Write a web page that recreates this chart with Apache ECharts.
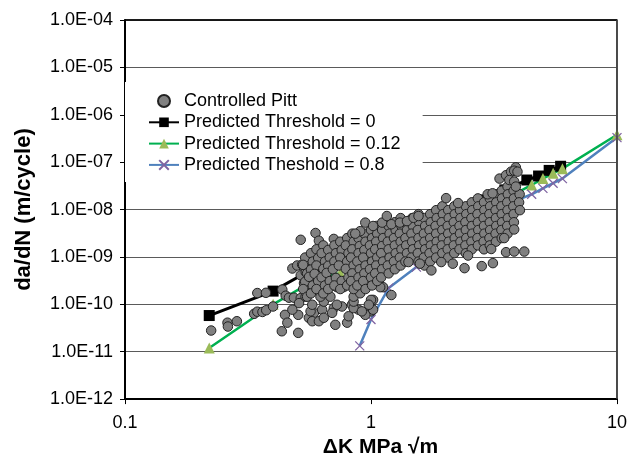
<!DOCTYPE html>
<html><head><meta charset="utf-8">
<script src="https://cdn.jsdelivr.net/npm/echarts@6/dist/echarts.min.js"></script>
<style>html,body{margin:0;padding:0;background:#fff}#c{width:630px;height:463px;background:#fff}</style>
</head><body><div id="c"></div>
<script>
const seriesNames = ['Controlled Pitt', 'Predicted Threshold = 0', 'Predicted Threshold = 0.12', 'Predicted Theshold = 0.8'];
const yTickLabels = ['1.0E-12','1.0E-11','1.0E-10','1.0E-09','1.0E-08','1.0E-07','1.0E-06','1.0E-05','1.0E-04'];
const xTickLabels = ['0.1','1','10'];
const xRange = [0.1, 10];
const yRange = [1e-12, 1e-4];

// Predicted curves (ΔK, da/dN)
const th0DK   = [0.22, 0.4, 0.6, 0.8, 1.0, 1.3, 1.7, 2.2, 2.8, 3.5, 4.3, 4.8, 5.3, 5.9];
const th0Rate = [5.8e-11, 1.9e-10, 6.2e-10, 1.2e-9, 1.9e-9, 3.2e-9, 5.5e-9, 9.5e-9, 1.6e-8, 2.6e-8, 4.2e-8, 5.1e-8, 6.7e-8, 8.2e-8];
const th012DK   = [0.22, 0.4, 0.6, 0.75, 1.0, 1.3, 1.7, 2.2, 2.8, 3.4, 4.0, 4.5, 5.0, 5.5, 6.0, 10];
const th012Rate = [1.2e-11, 1.0e-10, 3.4e-10, 4.6e-10, 9.2e-10, 1.7e-9, 3.2e-9, 5.8e-9, 1.0e-8, 1.6e-8, 2.4e-8, 3.3e-8, 4.5e-8, 5.8e-8, 7.3e-8, 3.8e-7];
const th08DK   = [0.9, 1.0, 1.18, 1.53, 2.0, 2.5, 3.0, 3.5, 4.0, 4.5, 5.0, 5.5, 6.0, 10];
const th08Rate = [1.33e-11, 4.8e-11, 2.2e-10, 6.1e-10, 2.0e-9, 4.2e-9, 7.2e-9, 1.1e-8, 1.64e-8, 2.1e-8, 2.8e-8, 3.6e-8, 4.5e-8, 3.3e-7];

// Controlled Pitt measurements (ΔK, da/dN)
const pittPoints = [
 [0.224,2.8e-11],[0.261,4.1e-11],[0.262,3.4e-11],[0.285,4.4e-11],[0.335,6.3e-11],[0.345,7.0e-11],[0.362,6.9e-11],[0.375,7.5e-11],[0.40,9.0e-11],
 [0.345,1.73e-10],[0.374,1.75e-10],[0.436,2.05e-10],[0.45,1.52e-10],[0.464,1.38e-10],[0.486,1.38e-10],[0.518,1.35e-10],[0.542,1.45e-10],
 [0.447,6.0e-11],[0.457,4.1e-11],[0.434,2.7e-11],[0.506,2.5e-11],[0.506,6.0e-11],[0.479,7.7e-11],[0.51,1.06e-10],[0.559,5.2e-11],[0.586,6.6e-11],[0.577,4.4e-11],
 [0.479,5.7e-10],[0.501,6.6e-10],[0.525,6.9e-10],[0.542,5.7e-10],[0.518,4.1e-10],[0.543,4.8e-10],[0.577,6.1e-10],[0.595,9.9e-10],
 [0.518,2.3e-9],[0.595,3.2e-9],[0.534,2.8e-10],[0.559,3.2e-10],[0.614,2.2e-9],[0.706,2.4e-9],[0.577,1.9e-10],
 [0.568,7.1e-11],[0.633,7.7e-11],[0.706,8.3e-11],[0.762,9.0e-11],[0.836,9.8e-11],[0.89,7.7e-11],[1.0,7.1e-11],[0.948,6.0e-11],[0.80,4.1e-11],[0.716,3.7e-11],
 [0.614,4.4e-11],[0.643,5.2e-11],[0.811,5.6e-11],[0.695,6.6e-11],[0.85,8.3e-11],[0.918,7.1e-11],[1.02,7.7e-11],[0.577,9.8e-11],[0.643,1.14e-10],[0.727,9.8e-11],
 [0.85,1.14e-10],[1.02,1.24e-10],[0.684,1.45e-10],[0.623,1.45e-10],[0.727,2.3e-10],[0.774,2.3e-10],[0.85,1.45e-10],[0.904,1.71e-10],[1.0,1.24e-10],[1.12,2.3e-10],
 [1.21,1.57e-10],[1.09,2.3e-10],[0.98,9.8e-11],
 [0.54,9.7e-10],[0.53,6.8e-10],[0.55,4.5e-10],[0.54,3.0e-10],[0.53,2.1e-10],[0.55,1.45e-10],
 [0.57,1.2e-9],[0.58,8.0e-10],[0.57,5.4e-10],[0.56,3.8e-10],[0.58,2.5e-10],[0.57,1.7e-10],
 [0.60,1.45e-9],[0.61,9.5e-10],[0.60,6.6e-10],[0.59,4.4e-10],[0.61,3.1e-10],[0.60,2.1e-10],
 [0.64,1.75e-9],[0.63,1.2e-9],[0.65,8.0e-10],[0.64,5.6e-10],[0.63,3.7e-10],[0.65,2.5e-10],[0.64,1.7e-10],
 [0.67,1.4e-9],[0.68,9.7e-10],[0.67,6.5e-10],[0.66,4.6e-10],[0.68,3.1e-10],[0.67,2.1e-10],
 [0.71,1.75e-9],[0.72,1.2e-9],[0.71,8.0e-10],[0.70,5.5e-10],[0.72,3.6e-10],[0.71,2.5e-10],
 [0.75,2.1e-9],[0.76,1.4e-9],[0.75,9.7e-10],[0.74,6.6e-10],[0.76,3.1e-10],[0.75,2.1e-10],
 [0.80,2.5e-9],[0.79,1.75e-9],[0.81,1.2e-9],[0.80,8.0e-10],[0.79,5.6e-10],[0.81,3.7e-10],[0.80,2.5e-10],
 [0.84,3.1e-9],[0.85,2.1e-9],[0.84,1.45e-9],[0.83,9.7e-10],[0.85,6.6e-10],[0.84,4.5e-10],[0.83,3.1e-10],[0.85,2.1e-10],
 [0.89,2.5e-9],[0.90,1.7e-9],[0.89,1.2e-9],[0.88,8.0e-10],[0.90,5.5e-10],[0.89,3.7e-10],[0.88,2.5e-10],
 [0.94,3.1e-9],[0.95,2.1e-9],[0.94,1.4e-9],[0.93,9.7e-10],[0.95,6.6e-10],[0.94,4.5e-10],[0.93,3.1e-10],[0.95,2.1e-10],
 [1.0,3.7e-9],[1.01,2.5e-9],[0.99,1.75e-9],[1.0,1.2e-9],[1.01,8.0e-10],[0.99,5.5e-10],[1.0,3.7e-10],[1.01,2.5e-10],
 [1.05,4.5e-9],[1.06,3.1e-9],[1.05,2.1e-9],[1.04,1.45e-9],[1.06,9.7e-10],[1.05,6.6e-10],[1.04,4.5e-10],[1.06,3.1e-10],
 [1.11,3.7e-9],[1.12,2.5e-9],[1.11,1.7e-9],[1.10,1.2e-9],[1.12,8.0e-10],[1.11,5.5e-10],[1.10,3.7e-10],
 [1.18,4.5e-9],[1.19,3.1e-9],[1.17,2.1e-9],[1.18,1.45e-9],[1.19,9.7e-10],[1.17,6.6e-10],[1.18,4.5e-10],
 [1.25,5.4e-9],[1.26,3.7e-9],[1.24,2.5e-9],[1.25,1.75e-9],[1.26,1.2e-9],[1.24,8.0e-10],[1.25,5.5e-10],
 [1.32,6.6e-9],[1.33,4.5e-9],[1.31,3.1e-9],[1.32,2.1e-9],[1.33,1.45e-9],[1.31,9.7e-10],[1.32,6.6e-10],
 [1.39,5.4e-9],[1.40,3.7e-9],[1.38,2.5e-9],[1.39,1.75e-9],[1.40,1.2e-9],[1.38,8.0e-10],
 [1.47,6.6e-9],[1.48,4.5e-9],[1.46,3.1e-9],[1.47,2.1e-9],[1.48,1.45e-9],[1.46,9.7e-10],
 [1.56,8.0e-9],[1.57,5.4e-9],[1.55,3.7e-9],[1.56,2.5e-9],[1.57,1.75e-9],[1.55,1.2e-9],[1.56,8.0e-10],
 [1.65,6.6e-9],[1.66,4.5e-9],[1.64,3.1e-9],[1.65,2.1e-9],[1.66,1.45e-9],[1.64,9.7e-10],[1.65,6.6e-10],
 [1.74,8.0e-9],[1.75,5.4e-9],[1.73,3.7e-9],[1.74,2.5e-9],[1.75,1.75e-9],[1.73,1.2e-9],[1.74,8.0e-10],
 [1.84,9.7e-9],[1.85,6.6e-9],[1.83,4.5e-9],[1.84,3.1e-9],[1.85,2.1e-9],[1.83,1.45e-9],[1.84,9.7e-10],
 [1.95,1.17e-8],[1.96,8.0e-9],[1.94,5.4e-9],[1.95,3.7e-9],[1.96,2.5e-9],[1.94,1.75e-9],[1.95,1.2e-9],
 [2.06,9.7e-9],[2.07,6.6e-9],[2.05,4.5e-9],[2.06,3.1e-9],[2.07,2.1e-9],[2.05,1.45e-9],[2.06,9.7e-10],
 [2.18,1.17e-8],[2.19,8.0e-9],[2.17,5.4e-9],[2.18,3.7e-9],[2.19,2.5e-9],[2.17,1.75e-9],[2.18,1.2e-9],
 [2.30,9.7e-9],[2.31,6.6e-9],[2.29,4.5e-9],[2.30,3.1e-9],[2.31,2.1e-9],[2.29,1.45e-9],
 [2.43,1.17e-8],[2.44,8.0e-9],[2.42,5.4e-9],[2.43,3.7e-9],[2.44,2.5e-9],[2.42,1.75e-9],[2.43,1.2e-9],
 [2.57,1.42e-8],[2.58,9.7e-9],[2.56,6.6e-9],[2.57,4.5e-9],[2.58,3.1e-9],[2.56,2.1e-9],[2.57,1.45e-9],
 [2.72,1.72e-8],[2.73,1.17e-8],[2.71,8.0e-9],[2.72,5.4e-9],[2.73,3.7e-9],[2.71,2.5e-9],[2.72,1.75e-9],
 [2.88,1.42e-8],[2.89,9.7e-9],[2.87,6.6e-9],[2.88,4.5e-9],[2.89,3.1e-9],[2.87,2.1e-9],[2.88,1.45e-9],
 [3.04,1.72e-8],[3.05,1.17e-8],[3.03,8.0e-9],[3.04,5.4e-9],[3.05,3.7e-9],[3.03,2.5e-9],[3.04,1.75e-9],
 [3.22,2.1e-8],[3.23,1.42e-8],[3.21,9.7e-9],[3.22,6.6e-9],[3.23,4.5e-9],[3.21,3.1e-9],[3.22,2.1e-9],
 [3.40,2.5e-8],[3.41,1.72e-8],[3.39,1.17e-8],[3.40,8.0e-9],[3.41,5.4e-9],[3.39,3.7e-9],[3.40,2.5e-9],
 [3.59,3.05e-8],[3.60,2.1e-8],[3.58,1.42e-8],[3.59,9.7e-9],[3.60,6.6e-9],[3.58,4.5e-9],[3.59,3.1e-9],
 [3.80,2.5e-8],[3.81,1.72e-8],[3.79,1.17e-8],[3.80,8.0e-9],[3.81,5.4e-9],
 [4.02,2.1e-8],[4.0,1.42e-8],[4.03,9.7e-9],
 [2.98,2.1e-8],[3.12,2.2e-8],
 [0.948,5.3e-9],[1.02,4.5e-9],[0.904,3.5e-9],[0.863,3.1e-9],[1.11,5.3e-9],[1.16,7.3e-9],[1.21,4.9e-9],[1.31,5.3e-9],[1.40,5.7e-9],[1.49,6.7e-9],[1.56,7.3e-9],
 [2.02,1.74e-8],[2.26,1.37e-8],[3.33,4.5e-8],[3.54,5.3e-8],[3.71,6.3e-8],[3.88,7.8e-8],[3.82,6.6e-8],[3.65,4.2e-8],[3.82,3.9e-8],[3.88,3.05e-8],[3.94,6.3e-8],
 [1.42,7.8e-10],[1.58,7.2e-10],[1.76,5.2e-10],[2.15,7.2e-10],[2.40,5.8e-10],[2.82,6.4e-10],[3.13,7.4e-10],[3.54,1.26e-9],[3.82,1.3e-9],[4.2,1.3e-9],
 [1.93,7.8e-10],[2.48,1.07e-9],[3.08,1.47e-9],[3.48,2.5e-9],[3.82,3.8e-9]
];

const pair = (ks, rs) => ks.map((k, i) => [k, rs[i]]);
const FONT = "'Liberation Sans', Arial, sans-serif";

const chart = echarts.init(document.getElementById('c'), null, {renderer: 'canvas'});
chart.setOption({
  animation: false,
  textStyle: {fontFamily: FONT, color: '#000'},
  grid: {left: 125, right: 10, top: 20, bottom: 57, show: true, borderColor: '#404040', borderWidth: 1.5},
  legend: {
    orient: 'vertical', left: 125, top: 82, padding: [10, 22, 8, 23],
    backgroundColor: '#ffffff', itemWidth: 30, itemHeight: 12, itemGap: 3.3,
    textStyle: {fontSize: 18, fontFamily: FONT, color: '#000', lineHeight: 18},
    data: seriesNames
  },
  xAxis: {
    type: 'log', logBase: 10, min: xRange[0], max: xRange[1], interval: 1,
    name: 'ΔK MPa √m', nameLocation: 'middle', nameGap: 35,
    nameTextStyle: {fontSize: 21, fontWeight: 'bold', fontFamily: FONT, color: '#000', lineHeight: 21, padding: [0, 0, 0, 19]},
    axisLine: {show: true, onZero: false, lineStyle: {color: '#000', width: 2}},
    axisTick: {show: true, inside: false, length: 5, lineStyle: {color: '#000', width: 1}},
    splitLine: {show: false},
    axisLabel: {fontSize: 18, color: '#000', fontFamily: FONT, margin: 15,
      formatter: v => xTickLabels[Math.round(Math.log10(v)) + 1] ?? ''}
  },
  yAxis: {
    type: 'log', logBase: 10, min: yRange[0], max: yRange[1], interval: 1,
    name: 'da/dN (m/cycle)', nameLocation: 'middle', nameGap: 90,
    nameTextStyle: {fontSize: 22, fontWeight: 'bold', fontFamily: FONT, color: '#000'},
    axisLine: {show: true, onZero: false, lineStyle: {color: '#000', width: 2}},
    axisTick: {show: true, inside: false, length: 5, lineStyle: {color: '#000', width: 1}},
    splitLine: {show: true, showMinLine: true, showMaxLine: true, lineStyle: {color: '#5a5a5a', width: 1}},
    axisLabel: {fontSize: 18, color: '#000', fontFamily: FONT, margin: 12,
      formatter: v => yTickLabels[Math.round(Math.log10(v)) + 12] ?? ''}
  },
  series: [
    {
      name: seriesNames[0], type: 'scatter', data: pittPoints, z: 3,
      symbol: 'circle', symbolSize: 9.5,
      itemStyle: {color: '#808080', borderColor: '#222', borderWidth: 1, opacity: 1}
    },
    {
      name: seriesNames[1], type: 'line', data: pair(th0DK, th0Rate), z: 2,
      symbol: 'rect', symbolSize: 11, showAllSymbol: true,
      lineStyle: {color: '#000', width: 3}, itemStyle: {color: '#000'}
    },
    {
      name: seriesNames[2], type: 'line', data: pair(th012DK, th012Rate), z: 2,
      symbol: 'triangle', symbolSize: 11, showAllSymbol: true,
      lineStyle: {color: '#00B050', width: 2.5}, itemStyle: {color: '#9BBB59'}
    },
    {
      name: seriesNames[3], type: 'line', data: pair(th08DK, th08Rate), z: 2,
      symbol: 'path://M0,0L10,10M10,0L0,10', symbolSize: 9, showAllSymbol: true,
      lineStyle: {color: '#4F81BD', width: 2.5},
      itemStyle: {color: 'none', borderColor: '#8064A2', borderWidth: 1.3}
    }
  ]
});

// Plot-area frame (top and right edges) placed through the axes' own scales
const topLeft = chart.convertToPixel({gridIndex: 0}, [xRange[0], yRange[1]]);
const topRight = chart.convertToPixel({gridIndex: 0}, [xRange[1], yRange[1]]);
const bottomRight = chart.convertToPixel({gridIndex: 0}, [xRange[1], yRange[0]]);
if (topLeft && topRight && bottomRight) {
  chart.setOption({
    graphic: [
      {type: 'line', silent: true, z: 100, shape: {x1: topLeft[0], y1: topLeft[1], x2: topRight[0], y2: topRight[1]},
       style: {stroke: '#000', lineWidth: 1.5}},
      {type: 'line', silent: true, z: 100, shape: {x1: topRight[0], y1: topRight[1], x2: bottomRight[0], y2: bottomRight[1]},
       style: {stroke: '#404040', lineWidth: 1.5}}
    ]
  });
}
</script></body></html>
